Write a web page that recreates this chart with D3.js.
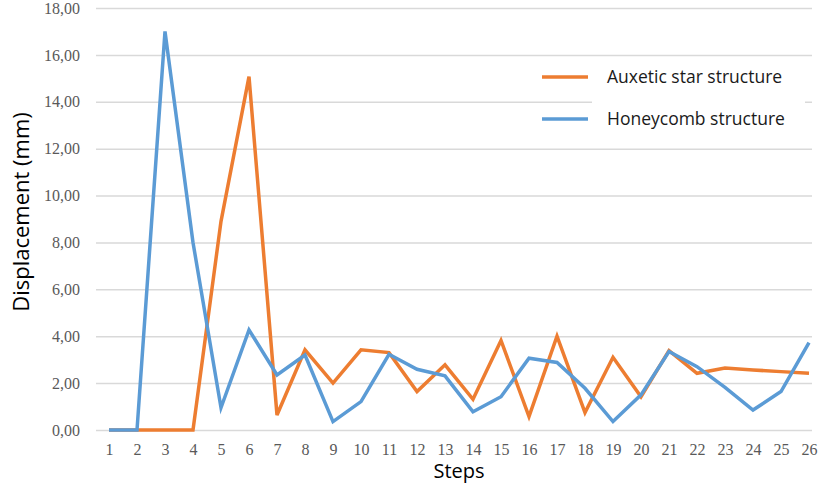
<!DOCTYPE html>
<html>
<head>
<meta charset="utf-8">
<script src="https://cdn.jsdelivr.net/npm/d3@7"></script>
<style>
  body { margin: 0; background: #fff; }
  svg { display: block; }
</style>
</head>
<body>
<svg id="chart" width="818" height="489"></svg>
<script>
// steps on the x axis
const steps = d3.range(1, 27)
const yTicks = [0, 2, 4, 6, 8, 10, 12, 14, 16, 18]

// displacement (mm) per step
const auxetic = [0, 0, 0, 0, 8.9, 15.07, 0.64, 3.42, 2.0, 3.42, 3.3, 1.64, 2.78,
                 1.31, 3.82, 0.57, 4.0, 0.74, 3.1, 1.42, 3.39, 2.42, 2.64, 2.56, 2.49, 2.42]
const honeycomb = [0, 0, 17.0, 8.0, 0.95, 4.27, 2.35, 3.2, 0.36, 1.21, 3.23, 2.59, 2.31,
                   0.78, 1.42, 3.06, 2.88, 1.78, 0.36, 1.5, 3.35, 2.7, 1.82, 0.85, 1.64, 3.73]

const seriesNames = ['Auxetic star structure', 'Honeycomb structure']
const colors = ['#ED7D31', '#5B9BD5']

const svg = d3.select('#chart')
const plotLeft = 96, plotRight = 812, plotTop = 8, plotBottom = 430

const x = d3.scalePoint().domain(steps).range([109, 809])
const y = d3.scaleLinear().domain([0, 18]).range([plotBottom, plotTop])

// --- gridlines + y labels
const yAxis = svg.append('g')
    .attr('transform', `translate(${plotLeft},0)`)
    .call(d3.axisLeft(y).tickValues(yTicks).tickSize(-(plotRight - plotLeft)).tickPadding(16)
        .tickFormat(d => d3.format('.2f')(d).replace('.', ',')))
yAxis.select('.domain').remove()
yAxis.selectAll('.tick line').attr('stroke', '#d9d9d9').attr('stroke-width', 1.5)
yAxis.selectAll('.tick text')
    .attr('fill', '#595959').attr('font-family', 'Liberation Serif, serif').attr('font-size', 16)

// --- x labels
const xAxis = svg.append('g')
    .attr('transform', `translate(0,${plotBottom})`)
    .call(d3.axisBottom(x).tickSize(0).tickPadding(14))
xAxis.select('.domain').remove()
xAxis.selectAll('.tick text')
    .attr('fill', '#595959').attr('font-family', 'Liberation Serif, serif').attr('font-size', 16)

// --- axis titles
svg.append('text')
    .attr('transform', `translate(29,212) rotate(-90)`)
    .attr('text-anchor', 'middle')
    .attr('font-family', 'Open Sans, sans-serif').attr('font-size', 22)
    .attr('fill', '#000')
    .text('Displacement (mm)')

svg.append('text')
    .attr('x', 459).attr('y', 478)
    .attr('text-anchor', 'middle')
    .attr('font-family', 'Open Sans, sans-serif').attr('font-size', 20)
    .attr('fill', '#000')
    .text('Steps')

// --- lines (honeycomb drawn last, on top)
const line = d3.line().x((d, i) => x(steps[i])).y(d => y(d))
const data = [auxetic, honeycomb]
data.forEach((vals, i) => {
    svg.append('path')
        .datum(vals)
        .attr('d', line)
        .attr('fill', 'none')
        .attr('stroke', colors[i])
        .attr('stroke-width', 3.5)
        .attr('stroke-linejoin', 'miter')
})

// --- legend
svg.append('rect')
    .attr('x', 592).attr('y', 62).attr('width', 213).attr('height', 76)
    .attr('fill', '#fff')
const legendY = [77, 119]
seriesNames.forEach((name, i) => {
    svg.append('line')
        .attr('x1', 542).attr('x2', 588)
        .attr('y1', legendY[i]).attr('y2', legendY[i])
        .attr('stroke', colors[i]).attr('stroke-width', 3.5)
    svg.append('text')
        .attr('x', 607).attr('y', legendY[i] + 6)
        .attr('font-family', 'Open Sans, sans-serif').attr('font-size', 17.5)
        .attr('fill', '#1a1a1a')
        .text(name)
})
</script>
</body>
</html>
